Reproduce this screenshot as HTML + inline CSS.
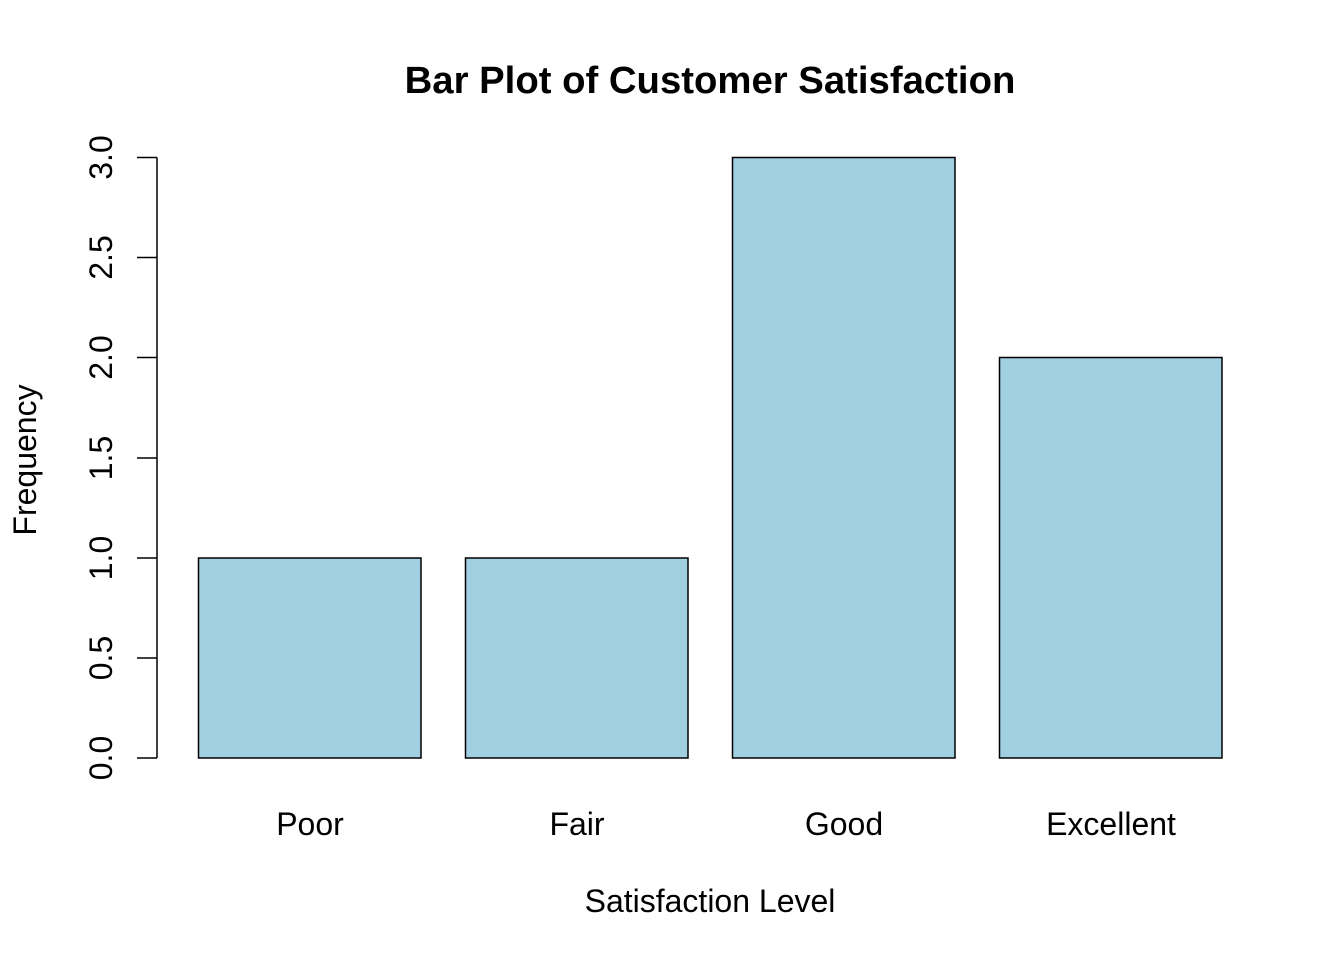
<!DOCTYPE html>
<html><head><meta charset="utf-8"><style>body{margin:0;background:#fff}</style></head><body>
<svg width="1344" height="960" xmlns="http://www.w3.org/2000/svg" font-family="Liberation Sans, Arial, sans-serif">
<rect width="1344" height="960" fill="#fff"/>
<text x="710" y="93" font-size="38.3" font-weight="bold" text-anchor="middle">Bar Plot of Customer Satisfaction</text>
<g fill="#9fcfe0" stroke="#000" stroke-width="1.5">
<rect x="198.5" y="558" width="222.5" height="200"/>
<rect x="465.5" y="558" width="222.5" height="200"/>
<rect x="732.5" y="157.5" width="222.5" height="600.5"/>
<rect x="999.5" y="357.5" width="222.5" height="400.5"/>
</g>
<g stroke="#000" stroke-width="1.5">
<line x1="157" y1="157.5" x2="157" y2="758"/>
<line x1="137" y1="758" x2="157" y2="758"/>
<line x1="137" y1="658" x2="157" y2="658"/>
<line x1="137" y1="558" x2="157" y2="558"/>
<line x1="137" y1="458" x2="157" y2="458"/>
<line x1="137" y1="357.5" x2="157" y2="357.5"/>
<line x1="137" y1="257.5" x2="157" y2="257.5"/>
<line x1="137" y1="157.5" x2="157" y2="157.5"/>
</g>
<g font-size="32" text-anchor="middle">
<text transform="translate(112,758) rotate(-90)">0.0</text>
<text transform="translate(112,658) rotate(-90)">0.5</text>
<text transform="translate(112,558) rotate(-90)">1.0</text>
<text transform="translate(112,458) rotate(-90)">1.5</text>
<text transform="translate(112,357.5) rotate(-90)">2.0</text>
<text transform="translate(112,257.5) rotate(-90)">2.5</text>
<text transform="translate(112,157.5) rotate(-90)">3.0</text>
<text x="310" y="835">Poor</text>
<text x="577" y="835">Fair</text>
<text x="844" y="835">Good</text>
<text x="1111" y="835">Excellent</text>
<text x="710" y="912">Satisfaction Level</text>
<text transform="translate(36,460) rotate(-90)">Frequency</text>
</g>
</svg>
</body></html>
